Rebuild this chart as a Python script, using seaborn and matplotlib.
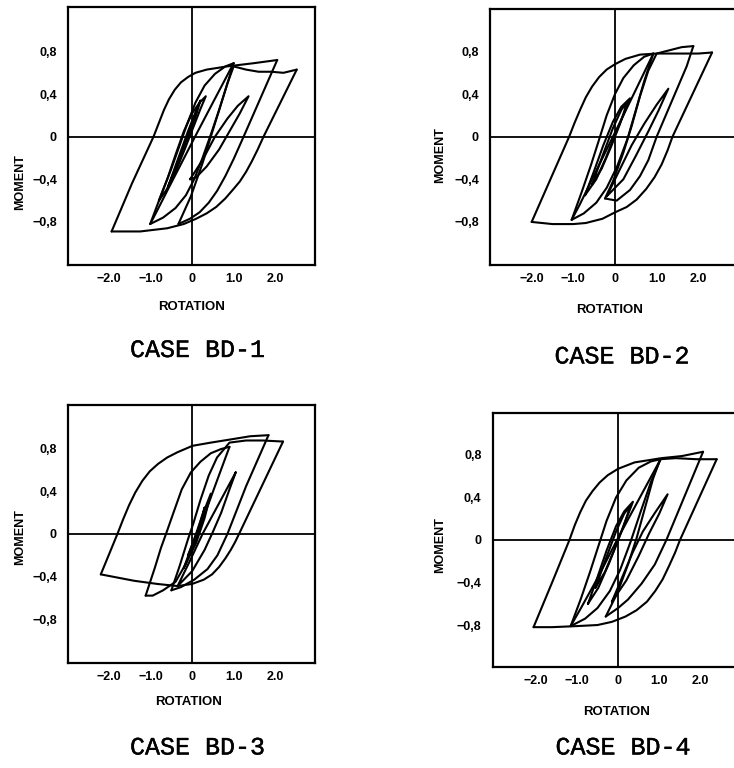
import matplotlib
matplotlib.use("Agg")
import matplotlib.pyplot as plt
import matplotlib.patheffects as pe
import pandas as pd
import seaborn as sns

# ---------------- data (rotation, moment) ----------------
# CASE BD-1
bd1_outer_upper = [(-1.94, -0.89), (-1.45, -0.44), (-0.93, 0.0), (-0.80, 0.13), (-0.68, 0.25),
                   (-0.56, 0.35), (-0.42, 0.44), (-0.27, 0.51), (-0.10, 0.56), (0.08, 0.60),
                   (0.35, 0.63), (0.84, 0.66), (1.48, 0.69), (2.05, 0.72)]
bd1_unload_a = [(2.05, 0.72), (1.24, 0.0), (1.00, -0.21), (0.80, -0.37), (0.60, -0.51),
                (0.40, -0.62), (0.18, -0.71), (-0.05, -0.77), (-0.33, -0.82)]
bd1_reload_b = [(-0.33, -0.82), (-0.03, -0.56), (0.25, -0.25), (0.45, 0.0), (0.65, 0.25),
                (0.85, 0.50), (1.0, 0.66), (1.3, 0.63), (1.6, 0.61), (1.9, 0.61),
                (2.2, 0.60), (2.52, 0.63)]
bd1_unload_c = [(2.52, 0.63), (1.72, 0.0), (1.58, -0.12), (1.44, -0.23), (1.30, -0.33),
                (1.15, -0.42), (1.00, -0.49), (0.80, -0.58), (0.58, -0.66), (0.35, -0.72),
                (0.10, -0.77), (-0.20, -0.82), (-0.60, -0.86), (-1.25, -0.89), (-1.94, -0.89)]
bd1_med_down = [(1.0, 0.69), (0.5, 0.32), (0.07, 0.0), (-0.55, -0.47), (-0.85, -0.70), (-1.01, -0.82)]
bd1_med_up = [(-1.01, -0.82), (-0.75, -0.55), (-0.5, -0.30), (-0.3, -0.08), (-0.12, 0.12),
              (0.08, 0.32), (0.3, 0.48), (0.55, 0.59), (0.8, 0.66), (1.0, 0.69)]
bd1_med_low = [(-1.01, -0.82), (-0.7, -0.76), (-0.4, -0.67), (-0.15, -0.55), (0.05, -0.40),
               (0.25, -0.20), (0.45, 0.02), (0.65, 0.25), (0.85, 0.50), (1.0, 0.69)]
bd1_lens1 = [(-0.80, -0.60), (-0.60, -0.40), (-0.40, -0.17), (-0.20, 0.05), (0.0, 0.22),
             (0.18, 0.32), (0.33, 0.38), (0.20, 0.26), (0.02, 0.08), (-0.18, -0.12),
             (-0.40, -0.33), (-0.62, -0.50), (-0.80, -0.60)]
bd1_lens2 = [(-0.58, -0.47), (-0.35, -0.22), (-0.1, 0.05), (0.1, 0.25), (0.2, 0.34), (0.08, 0.18),
             (-0.15, -0.05), (-0.38, -0.28), (-0.58, -0.47)]
bd1_lens3 = [(-0.05, -0.40), (0.25, -0.22), (0.55, 0.0), (0.85, 0.17), (1.1, 0.29), (1.36, 0.38),
             (1.15, 0.22), (0.9, 0.05), (0.65, -0.12), (0.35, -0.28), (0.1, -0.38), (-0.05, -0.40)]

# CASE BD-2
bd2_outer_upper = [(-2.0, -0.80), (-1.55, -0.40), (-1.10, 0.0), (-0.97, 0.13), (-0.84, 0.25),
                   (-0.70, 0.37), (-0.55, 0.47), (-0.38, 0.56), (-0.20, 0.63), (0.0, 0.68),
                   (0.25, 0.73), (0.6, 0.77), (1.0, 0.78), (1.5, 0.78), (2.0, 0.78), (2.33, 0.79)]
bd2_unload_a = [(2.33, 0.79), (1.38, 0.0), (1.26, -0.13), (1.12, -0.26), (0.95, -0.38),
                (0.75, -0.49), (0.52, -0.59), (0.28, -0.66), (0.0, -0.71), (-0.3, -0.77),
                (-0.7, -0.81), (-1.0, -0.82), (-1.5, -0.82), (-2.0, -0.80)]
bd2_unload_b = [(1.88, 0.85), (1.72, 0.66), (1.0, 0.0), (0.80, -0.22), (0.60, -0.37),
                (0.36, -0.50), (0.04, -0.60), (-0.24, -0.58)]
bd2_reload_b = [(-0.24, -0.58), (-0.05, -0.42), (0.2, -0.15), (0.4, 0.1), (0.6, 0.38),
                (0.8, 0.62), (1.0, 0.78), (1.3, 0.81), (1.6, 0.84), (1.88, 0.85)]
bd2_med_down = [(0.92, 0.78), (0.45, 0.40), (-0.05, 0.0), (-0.5, -0.36), (-0.85, -0.64), (-1.04, -0.78)]
bd2_med_up = [(-1.04, -0.78), (-0.8, -0.52), (-0.58, -0.27), (-0.4, -0.05), (-0.2, 0.2),
              (0.0, 0.4), (0.2, 0.55), (0.45, 0.67), (0.7, 0.75), (0.92, 0.78)]
bd2_med_low = [(-1.04, -0.78), (-0.75, -0.72), (-0.45, -0.62), (-0.2, -0.48), (0.05, -0.28),
               (0.3, -0.02), (0.5, 0.25), (0.7, 0.52), (0.92, 0.78)]
bd2_lens1 = [(-0.72, -0.55), (-0.5, -0.32), (-0.28, -0.08), (-0.05, 0.14), (0.15, 0.28), (0.36, 0.36),
             (0.2, 0.2), (0.0, 0.02), (-0.22, -0.2), (-0.45, -0.40), (-0.72, -0.55)]
bd2_lens2 = [(-0.55, -0.45), (-0.3, -0.18), (-0.05, 0.08), (0.15, 0.25), (0.3, 0.33), (0.12, 0.12),
             (-0.1, -0.1), (-0.32, -0.3), (-0.55, -0.45)]
bd2_lens3 = [(-0.2, -0.56), (0.1, -0.32), (0.4, -0.08), (0.7, 0.12), (1.0, 0.3), (1.28, 0.45),
             (1.05, 0.25), (0.8, 0.05), (0.5, -0.18), (0.2, -0.40), (-0.2, -0.56)]

# CASE BD-3
bd3_outer_upper = [(-2.20, -0.38), (-1.80, 0.0), (-1.66, 0.14), (-1.52, 0.27), (-1.37, 0.39),
                   (-1.20, 0.50), (-1.02, 0.59), (-0.82, 0.66), (-0.60, 0.72), (-0.35, 0.77),
                   (0.01, 0.83), (0.45, 0.86), (0.93, 0.89), (1.4, 0.92), (1.84, 0.93)]
bd3_unload_a = [(1.84, 0.93), (1.3, 0.45), (0.85, 0.0), (0.61, -0.2), (0.37, -0.33),
                (0.05, -0.43), (-0.27, -0.50), (-0.5, -0.53)]
bd3_reload_b = [(-0.5, -0.53), (-0.3, -0.3), (-0.1, -0.05), (0.03, 0.1), (0.2, 0.32), (0.4, 0.55),
                (0.6, 0.72), (0.9, 0.86), (1.3, 0.88), (1.7, 0.88), (2.19, 0.87)]
bd3_unload_c = [(2.19, 0.87), (1.13, 0.0), (1.03, -0.08), (0.93, -0.15), (0.80, -0.23),
                (0.65, -0.31), (0.48, -0.38), (0.28, -0.43), (0.0, -0.47), (-0.35, -0.49),
                (-0.84, -0.47), (-1.4, -0.44), (-2.20, -0.38)]
bd3_med_up = [(-1.12, -0.58), (-0.9, -0.32), (-0.75, -0.13), (-0.63, 0.0), (-0.45, 0.2),
              (-0.25, 0.42), (-0.03, 0.58), (0.2, 0.68), (0.45, 0.76), (0.7, 0.80), (0.9, 0.82)]
bd3_med_down = [(0.9, 0.82), (0.55, 0.45), (0.13, 0.0), (-0.15, -0.28), (-0.4, -0.45),
                (-0.7, -0.53), (-0.95, -0.58), (-1.12, -0.58)]
bd3_lens1 = [(1.05, 0.58), (0.25, 0.0), (-0.05, -0.25), (-0.35, -0.49), (0.0, -0.35), (0.3, -0.15),
             (0.5, 0.02), (0.7, 0.2), (0.9, 0.42), (1.05, 0.58)]
bd3_lens2 = [(-0.2, -0.32), (0.05, -0.05), (0.25, 0.18), (0.45, 0.38), (0.3, 0.15), (0.1, -0.08), (-0.2, -0.32)]
bd3_lens3 = [(-0.1, -0.2), (0.15, 0.05), (0.3, 0.25), (0.2, 0.05), (0.0, -0.15), (-0.1, -0.2)]

# CASE BD-4
bd4_outer_upper = [(-2.05, -0.82), (-1.60, -0.40), (-1.18, 0.0), (-1.05, 0.14), (-0.92, 0.26),
                   (-0.78, 0.37), (-0.62, 0.46), (-0.45, 0.54), (-0.25, 0.61), (0.0, 0.67),
                   (0.4, 0.73), (1.05, 0.77), (1.55, 0.79), (2.06, 0.83)]
bd4_unload_a = [(2.06, 0.83), (1.17, 0.0), (0.89, -0.23), (0.57, -0.41), (0.24, -0.56),
                (0.0, -0.64), (-0.3, -0.72)]
bd4_reload_b = [(-0.3, -0.72), (-0.02, -0.5), (0.25, -0.22), (0.45, 0.02), (0.65, 0.3),
                (0.85, 0.58), (1.02, 0.76), (1.4, 0.77), (1.9, 0.76), (2.39, 0.76)]
bd4_unload_c = [(2.39, 0.76), (1.5, 0.0), (1.38, -0.12), (1.24, -0.24), (1.08, -0.37),
                (0.90, -0.48), (0.70, -0.58), (0.45, -0.66), (0.18, -0.72), (-0.15, -0.77),
                (-0.5, -0.80), (-1.0, -0.81), (-1.6, -0.82), (-2.05, -0.82)]
bd4_med_down = [(1.03, 0.76), (0.5, 0.38), (0.0, 0.02), (-0.5, -0.36), (-0.9, -0.64), (-1.15, -0.81)]
bd4_med_up = [(-1.15, -0.81), (-0.9, -0.55), (-0.68, -0.3), (-0.48, -0.06), (-0.28, 0.18),
              (-0.05, 0.4), (0.2, 0.56), (0.5, 0.68), (0.8, 0.74), (1.03, 0.76)]
bd4_med_low = [(-1.15, -0.81), (-0.8, -0.74), (-0.5, -0.64), (-0.2, -0.48), (0.05, -0.28),
               (0.3, -0.02), (0.55, 0.27), (0.8, 0.55), (1.03, 0.76)]
bd4_lens1 = [(-0.73, -0.6), (-0.5, -0.35), (-0.28, -0.1), (-0.05, 0.13), (0.15, 0.27), (0.36, 0.36),
             (0.2, 0.2), (0.0, 0.0), (-0.22, -0.22), (-0.48, -0.45), (-0.73, -0.6)]
bd4_lens2 = [(-0.55, -0.45), (-0.3, -0.18), (-0.05, 0.08), (0.15, 0.25), (0.3, 0.32), (0.12, 0.12),
             (-0.1, -0.1), (-0.32, -0.3), (-0.55, -0.45)]
bd4_lens3 = [(-0.15, -0.58), (0.1, -0.35), (0.35, -0.12), (0.6, 0.08), (0.9, 0.26), (1.2, 0.43),
             (1.0, 0.25), (0.75, 0.06), (0.5, -0.15), (0.2, -0.38), (-0.15, -0.58)]

case_titles = ["CASE BD-1", "CASE BD-2", "CASE BD-3", "CASE BD-4"]
x_ticks = [-2, -1, 0, 1, 2]
x_tick_labels = ["\u22122.0", "\u22121.0", "0", "1.0", "2.0"]
y_ticks = [0.8, 0.4, 0, -0.4, -0.8]
y_tick_labels = ["0,8", "0,4", "0", "\u22120,4", "\u22120,8"]
x_label = "ROTATION"
y_label = "MOMENT"

case_segments = [
    [bd1_outer_upper, bd1_unload_a, bd1_reload_b, bd1_unload_c, bd1_med_down, bd1_med_up,
     bd1_med_low, bd1_lens1, bd1_lens2, bd1_lens3],
    [bd2_outer_upper, bd2_unload_a, bd2_unload_b, bd2_reload_b, bd2_med_down, bd2_med_up,
     bd2_med_low, bd2_lens1, bd2_lens2, bd2_lens3],
    [bd3_outer_upper, bd3_unload_a, bd3_reload_b, bd3_unload_c, bd3_med_up, bd3_med_down,
     bd3_lens1, bd3_lens2, bd3_lens3],
    [bd4_outer_upper, bd4_unload_a, bd4_reload_b, bd4_unload_c, bd4_med_down, bd4_med_up,
     bd4_med_low, bd4_lens1, bd4_lens2, bd4_lens3],
]

# ---------------- layout ----------------
W, H = 734, 768
sns.set_theme(style="white")
plt.rcParams["font.family"] = ["Liberation Sans", "DejaVu Sans"]
plt.rcParams["text.color"] = "black"
plt.rcParams["xtick.color"] = "black"
plt.rcParams["ytick.color"] = "black"
plt.rcParams["axes.labelcolor"] = "black"

fig = plt.figure(figsize=(W / 100, H / 100), dpi=100)

# axes frames in pixels: left, top, right, bottom
frames = [(68, 7, 315, 265), (490, 9, 740, 265), (68, 405, 315, 663), (492.7, 413.3, 740.2, 666.7)]
xlims = [(-2.99, 2.96), (-3.0, 3.0), (-2.99, 2.96), (-3.04, 2.96)]
ylims = [(-1.205, 1.218), (-1.204, 1.198), (-1.214, 1.214), (-1.192, 1.192)]
ylabel_pos = [(-0.194, 0.32), (-0.20, 0.43), (-0.194, 0.49), (-0.213, 0.48)]
xlabel_pos = [(0.50, -0.163), (0.48, -0.176), (0.49, -0.150), (0.50, -0.178)]
caption_pos = [(197.5, 350), (622, 356.5), (197.5, 747.5), (623, 747.5)]

for i in range(4):
    l, t, r, b = frames[i]
    ax = fig.add_axes([l / W, 1 - b / H, (r - l) / W, (b - t) / H])
    rows = []
    for s, seg in enumerate(case_segments[i]):
        for k, (xv, yv) in enumerate(seg):
            rows.append({"segment": s, "order": k, "rotation": xv, "moment": yv})
    df = pd.DataFrame(rows)
    sns.lineplot(data=df, x="rotation", y="moment", units="segment", estimator=None,
                 sort=False, color="black", linewidth=1.5, ax=ax, legend=False)
    ax.axhline(0, color="black", lw=1.3, zorder=1)
    ax.axvline(0, color="black", lw=1.3, zorder=1)
    ax.set_xlim(*xlims[i])
    ax.set_ylim(*ylims[i])
    ax.set_xticks(x_ticks)
    ax.set_xticklabels(x_tick_labels, fontweight="bold", fontsize=9)
    ax.set_yticks(y_ticks)
    ax.set_yticklabels(y_tick_labels, fontweight="bold", fontsize=9)
    ax.tick_params(direction="out", length=3, width=1, colors="black", pad=3)
    ax.tick_params(axis="y", pad=5)
    ax.set_xlabel("")
    ax.set_ylabel("")
    for sp in ax.spines.values():
        sp.set_visible(True)
        sp.set_color("black")
        sp.set_linewidth(1.6)
    ax.text(*ylabel_pos[i], y_label, transform=ax.transAxes, rotation=90, ha="center",
            va="center", fontsize=9, fontweight="bold")
    ax.text(*xlabel_pos[i], x_label, transform=ax.transAxes, ha="center", va="center",
            fontsize=9.5, fontweight="bold")
    cx, cy = caption_pos[i]
    fig.text(cx / W, 1 - cy / H, case_titles[i], ha="center", va="center",
             fontsize=18, family=["Liberation Mono", "DejaVu Sans Mono"],
             path_effects=[pe.withStroke(linewidth=0.3, foreground="black")])

fig.savefig("out.png", dpi=100)
